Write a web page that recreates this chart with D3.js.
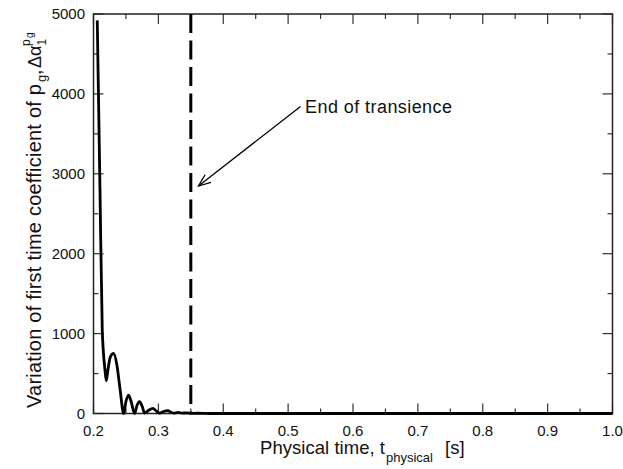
<!DOCTYPE html>
<html>
<head>
<meta charset="utf-8">
<script src="https://cdn.jsdelivr.net/npm/d3@7"></script>
<style>
  html, body { margin: 0; padding: 0; background: #fff; }
  svg { display: block; font-family: "Liberation Sans", Arial, Helvetica, sans-serif; }
</style>
</head>
<body>
<svg id="chart" width="623" height="469"></svg>
<script>
// Time (s) and variation of the first time coefficient of p_g
const timeValues = [0.2058, 0.2100, 0.2135, 0.2150, 0.2175, 0.2197, 0.2225, 0.2260, 0.2310, 0.2360, 0.2410, 0.2465,
  0.2500, 0.2540, 0.2580, 0.2634, 0.2670, 0.2710, 0.2750, 0.2788, 0.2850, 0.2915, 0.2970, 0.3020,
  0.3080, 0.3146, 0.3200, 0.3250, 0.3300, 0.3370, 0.3430, 0.3500, 0.3600, 0.3800, 0.5000, 0.7000, 1.0000];
const coeffValues = [4920, 2800, 1045, 800, 560, 410, 560, 710, 752, 610, 300, 0,
  150, 231, 150, 0, 100, 148, 90, 5, 40, 65, 30, 5,
  25, 35, 12, 4, 14, 5, 8, 2, 3, 0, 0, 0, 0];
const transienceEnd = 0.35;
const xTicks = [0.2, 0.3, 0.4, 0.5, 0.6, 0.7, 0.8, 0.9, 1.0];
const xMinorTicks = [0.25, 0.35, 0.45, 0.55, 0.65, 0.75, 0.85, 0.95];
const yTicks = [0, 1000, 2000, 3000, 4000, 5000];
const yMinorTicks = [500, 1500, 2500, 3500, 4500];

const svg = d3.select("#chart");
const L = 93.5, R = 612.5, T = 14, B = 413.5;

const x = d3.scaleLinear().domain([0.2, 1.0]).range([L, R]);
const y = d3.scaleLinear().domain([0, 5000]).range([B, T]);

const majorLen = 10, minorLen = 5;

// Tick marks drawn inward on all four sides
const tickG = svg.append("g").attr("stroke", "#333").attr("stroke-width", 1.2);
function vTicks(vals, len) {
  vals.forEach(v => {
    tickG.append("line").attr("x1", x(v)).attr("x2", x(v)).attr("y1", B).attr("y2", B - len);
    tickG.append("line").attr("x1", x(v)).attr("x2", x(v)).attr("y1", T).attr("y2", T + len);
  });
}
function hTicks(vals, len) {
  vals.forEach(v => {
    tickG.append("line").attr("y1", y(v)).attr("y2", y(v)).attr("x1", L).attr("x2", L + len);
    tickG.append("line").attr("y1", y(v)).attr("y2", y(v)).attr("x1", R).attr("x2", R - len);
  });
}
vTicks(xTicks, majorLen); vTicks(xMinorTicks, minorLen);
hTicks(yTicks, majorLen); hTicks(yMinorTicks, minorLen);

// Frame
svg.append("rect").attr("x", L).attr("y", T).attr("width", R - L).attr("height", B - T)
  .attr("fill", "none").attr("stroke", "#222").attr("stroke-width", 1.5);

// Tick labels
svg.append("g").selectAll("text").data(xTicks).join("text")
  .attr("x", d => x(d)).attr("y", 435.5)
  .attr("text-anchor", "middle").attr("font-size", 15).attr("fill", "#111")
  .text(d => d.toFixed(1));
svg.append("g").selectAll("text").data(yTicks).join("text")
  .attr("x", 85).attr("y", d => y(d) + 5)
  .attr("text-anchor", "end").attr("font-size", 15).attr("fill", "#111")
  .text(d => d);

// End-of-transience marker
svg.append("line")
  .attr("x1", x(transienceEnd)).attr("x2", x(transienceEnd))
  .attr("y1", T).attr("y2", B)
  .attr("stroke", "#000").attr("stroke-width", 3).attr("stroke-dasharray", "19,7.5");

// Data curve
const data = timeValues.map((t, i) => [t, coeffValues[i]]);
svg.append("path").datum(data)
  .attr("fill", "none").attr("stroke", "#000").attr("stroke-width", 2.8)
  .attr("stroke-linejoin", "round")
  .attr("d", d3.line().x(d => x(d[0])).y(d => y(d[1])).curve(d3.curveMonotoneX));

// Annotation arrow
const ax0 = 300.5, ay0 = 106.5, ax1 = 198.5, ay1 = 186;
const ang = Math.atan2(ay0 - ay1, ax0 - ax1), hl = 13, ha = 0.38;
const ann = svg.append("g").attr("stroke", "#000").attr("stroke-width", 1.3).attr("fill", "none");
ann.append("line").attr("x1", ax0).attr("y1", ay0).attr("x2", ax1).attr("y2", ay1);
ann.append("path").attr("d",
  `M${ax1 + hl * Math.cos(ang + ha)},${ay1 + hl * Math.sin(ang + ha)} L${ax1},${ay1} L${ax1 + hl * Math.cos(ang - ha)},${ay1 + hl * Math.sin(ang - ha)}`);
svg.append("text").attr("x", 305).attr("y", 113).attr("font-size", 18).attr("fill", "#111")
  .attr("textLength", 147).attr("lengthAdjust", "spacing")
  .text("End of transience");

// X axis title
const xt = svg.append("text").attr("y", 454).attr("font-size", 18.5).attr("fill", "#111");
xt.append("tspan").attr("x", 260).attr("textLength", 125).attr("lengthAdjust", "spacing")
  .text("Physical time, t");
xt.append("tspan").attr("x", 386).attr("font-size", 13).attr("dy", 8).text("physical");
xt.append("tspan").attr("x", 445).attr("dy", -8).text("[s]");

// Y axis title
const yt = svg.append("text").attr("transform", "translate(41,408) rotate(-90)")
  .attr("font-size", 20).attr("fill", "#111");
yt.append("tspan").attr("x", 0).attr("textLength", 324).attr("lengthAdjust", "spacing")
  .text("Variation of first time coefficient of p");
yt.append("tspan").attr("x", 326).attr("y", 5).attr("font-size", 13).text("g");
yt.append("tspan").attr("x", 333).attr("y", 0).text(",");
yt.append("tspan").attr("x", 340).attr("y", 0).attr("font-size", 18).text("Δα");
yt.append("tspan").attr("x", 362.5).attr("y", 5).attr("font-size", 12).text("1");
yt.append("tspan").attr("x", 362).attr("y", -11).attr("font-size", 12).text("p");
yt.append("tspan").attr("x", 370).attr("y", -8).attr("font-size", 10).text("g");
</script>
</body>
</html>
